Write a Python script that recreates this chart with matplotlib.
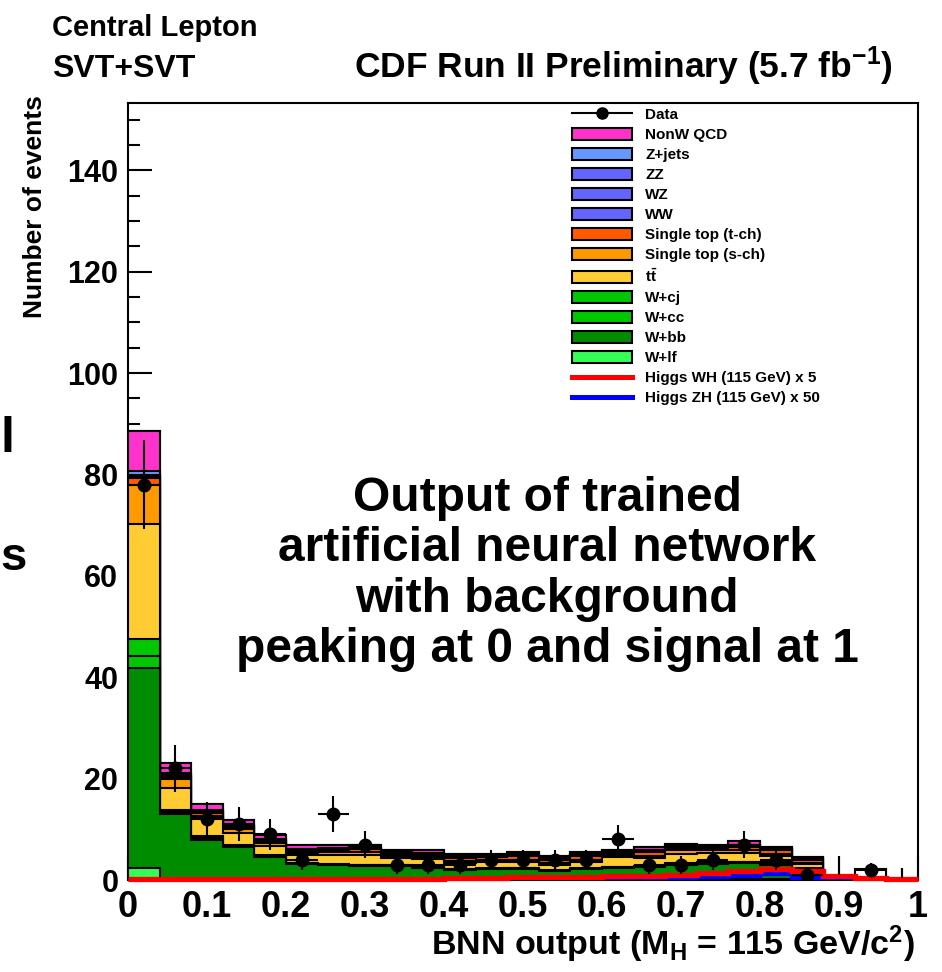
import numpy as np
import matplotlib
matplotlib.use('Agg')
import matplotlib.pyplot as plt
from matplotlib.patches import Patch
from matplotlib.lines import Line2D
from matplotlib.ticker import MultipleLocator

plt.rcParams['font.family'] = 'Liberation Sans'
plt.rcParams['font.weight'] = 'bold'
plt.rcParams['mathtext.fontset'] = 'custom'
plt.rcParams['mathtext.rm'] = 'Liberation Sans:bold'
plt.rcParams['mathtext.it'] = 'Liberation Sans:bold'
plt.rcParams['mathtext.bf'] = 'Liberation Sans:bold'

# 25 bins of BNN output, 0 to 1
bin_edges = np.linspace(0, 1, 26)

# Background templates (events per bin), stacked bottom -> top
w_lf  = [2.4, 0.2, 0.1, 0.1, 0.1, 0.1, 0.1, 0.1, 0.1, 0.1, 0.1, 0.1, 0.1, 0.1, 0.1, 0.1, 0.1, 0.1, 0.1, 0.1, 0.1, 0.1, 0, 0, 0]
w_bb  = [39.4, 12.8, 7.8, 6.4, 4.5, 3.1, 2.8, 2.7, 2.6, 2.3, 1.9, 2.0, 2.1, 1.6, 2.0, 2.3, 2.5, 2.8, 3.1, 3.2, 2.8, 1.6, 0, 0, 0]
w_cc  = [2.4, 0.4, 0.4, 0.2, 0.2, 0.1, 0.1, 0.1, 0.1, 0.1, 0.1, 0.1, 0.1, 0.1, 0.1, 0.1, 0.1, 0.2, 0.2, 0.2, 0.3, 0.3, 0, 0, 0]
w_cj  = [3.3, 0.5, 0.4, 0.2, 0.1, 0.1, 0.1, 0.1, 0.1, 0.1, 0.1, 0.1, 0.1, 0.1, 0.1, 0.1, 0.1, 0.2, 0.2, 0.1, 0.3, 0.3, 0, 0, 0]
ttbar = [22.7, 4.3, 3.5, 2.4, 1.9, 1.5, 1.8, 1.9, 1.4, 1.6, 1.2, 1.2, 1.2, 1.0, 1.3, 2.0, 1.6, 1.9, 1.7, 1.8, 1.3, 0.9, 0, 0, 0]
s_ch  = [7.7, 1.7, 0.5, 0.8, 0.5, 0.4, 0.6, 0.6, 0.4, 0.4, 0.4, 0.5, 0.4, 0.4, 0.4, 0.3, 0.4, 0.7, 0.6, 0.6, 0.3, 0.2, 0, 0, 0]
t_ch  = [1.4, 0.5, 0.5, 0.4, 0.4, 0.5, 0.5, 0.6, 0.5, 0.4, 0.6, 0.5, 0.7, 0.6, 0.7, 0.5, 0.8, 0.5, 0.5, 0.6, 0.8, 0.6, 0, 0, 0]
ww    = [0.2, 0.2, 0.2, 0.15, 0.1, 0.1, 0.1, 0.1, 0.1, 0.1, 0.1, 0.1, 0.15, 0.1, 0.15, 0.1, 0.15, 0.15, 0.15, 0.15, 0.2, 0.15, 0, 0, 0]
wz    = [0.2, 0.2, 0.15, 0.1, 0.1, 0.1, 0.1, 0.1, 0.1, 0.1, 0.1, 0.1, 0.1, 0.1, 0.1, 0.1, 0.1, 0.1, 0.1, 0.1, 0.1, 0.1, 0, 0, 0]
zz    = [0.2, 0.1, 0.05, 0.05, 0.05, 0.05, 0.05, 0.05, 0.05, 0.05, 0.05, 0.05, 0.05, 0.05, 0.05, 0.05, 0.05, 0.05, 0.05, 0.05, 0.1, 0.05, 0, 0, 0]
z_jets = [0.8, 0.3, 0.3, 0.2, 0.15, 0.15, 0.15, 0.15, 0.1, 0.1, 0.1, 0.1, 0.1, 0.1, 0.1, 0.05, 0.1, 0.1, 0.05, 0.1, 0.05, 0.05, 0, 0, 0]
qcd   = [7.9, 1.9, 1.1, 0.8, 0.8, 0.7, 0.5, 0.4, 0.3, 0.55, 0.45, 0.35, 0.5, 0.45, 0.5, 0.2, 0.6, 0.4, 0.15, 0.6, 0.25, 0.15, 0, 0, 0]
unfilled = [0] * 23 + [2.1, 0]

# Higgs signal templates (scaled)
higgs_wh = [0.2, 0.2, 0.2, 0.2, 0.2, 0.2, 0.2, 0.2, 0.2, 0.2, 0.4, 0.4, 0.5, 0.5, 0.5, 0.7, 0.7, 1.0, 1.4, 1.8, 2.2, 1.8, 0.8, 0.4, 0.1]
higgs_zh = [0, 0, 0, 0, 0, 0, 0, 0, 0, 0, 0.05, 0.05, 0.05, 0.05, 0.05, 0.1, 0.1, 0.26, 0.6, 0.7, 1.2, 0.45, 0, 0, 0]

# Observed data
data = [78, 22, 12, 11, 9, 4, 13, 7, 3, 3, 3, 4, 4, 4, 4, 8, 3, 3, 4, 7, 4, 1, 0, 2, 0]
empty_bins = [0.90, 0.98]
empty_lo = [1.0, 0.4]
empty_hi = [4.6, 2.4]

stack = [
    ('W+lf', w_lf, '#33ff55'),
    ('W+bb', w_bb, '#008c00'),
    ('W+cc', w_cc, '#00c800'),
    ('W+cj', w_cj, '#00c800'),
    (r'$t\bar{t}$', ttbar, '#ffcc33'),
    ('Single top (s-ch)', s_ch, '#ff9900'),
    ('Single top (t-ch)', t_ch, '#ff5a00'),
    ('WW', ww, '#6464ff'),
    ('WZ', wz, '#6464ff'),
    ('ZZ', zz, '#6464ff'),
    ('Z+jets', z_jets, '#6699ff'),
    ('NonW QCD', qcd, '#ff33cc'),
]

fig = plt.figure(figsize=(9.42, 9.72), dpi=100)
ax = fig.add_axes([128 / 942, 92 / 972, 790 / 942, 777 / 972])

# cumulative stack, drawn from the top layer down like THStack
cum = np.zeros(25)
layers = []
for name, vals, col in stack:
    cum = cum + np.array(vals)
    layers.append((cum.copy(), col))
layers.append((cum + np.array(unfilled), 'white'))
for top, col in reversed(layers):
    ax.stairs(top, bin_edges, baseline=0, fill=True, facecolor=col,
              edgecolor='black', linewidth=1.5, zorder=3)

ax.stairs(higgs_zh, bin_edges, baseline=None, color='#0000ff', linewidth=3.2, zorder=4)
ax.stairs(higgs_wh, bin_edges, baseline=None, color='#ff0000', linewidth=3.8, zorder=4,
          clip_on=False)

centers = 0.5 * (bin_edges[:-1] + bin_edges[1:])
data = np.array(data, dtype=float)
has = data > 0
ax.errorbar(centers[has], data[has], yerr=np.sqrt(data[has]), xerr=0.02,
            fmt='o', color='black', ms=9, elinewidth=1.5, capsize=0, zorder=5)
ax.vlines(empty_bins, empty_lo, empty_hi, color='black', linewidth=1.5, zorder=5)

ax.set_xlim(0, 1)
ax.set_ylim(0, 153.3)
ax.xaxis.set_minor_locator(MultipleLocator(0.02))
ax.yaxis.set_major_locator(MultipleLocator(20))
ax.yaxis.set_minor_locator(MultipleLocator(5))
ax.set_xticks(np.arange(0, 1.01, 0.1))
ax.set_xticklabels(['0', '0.1', '0.2', '0.3', '0.4', '0.5', '0.6', '0.7', '0.8', '0.9', '1'])
ax.tick_params(which='major', direction='in', length=17, width=1.5)
ax.tick_params(which='minor', direction='in', length=8.5, width=1.5)
ax.tick_params(axis='x', labelsize=26, pad=7)
ax.tick_params(axis='y', labelsize=22, pad=7)
for s in ax.spines.values():
    s.set_linewidth(1.5)

handles = [Line2D([], [], color='black', marker='o', ms=8, lw=1.5)]
labels = ['Data']
for name, vals, col in reversed(stack):
    handles.append(Patch(facecolor=col, edgecolor='black', linewidth=1.5))
    labels.append(name)
handles += [Line2D([], [], color='#ff0000', lw=3.6), Line2D([], [], color='#0000ff', lw=3.6)]
labels += ['Higgs WH (115 GeV) x 5', 'Higgs ZH (115 GeV) x 50']
ax.legend(handles, labels, loc='upper left', bbox_to_anchor=(0.562, 0.994),
          frameon=False, fontsize=11, handlelength=3.9, handleheight=0.85,
          labelspacing=0.37, handletextpad=0.9, borderpad=0, borderaxespad=0)

fig.text(52 / 942, 1 - 36 / 972, 'Central Lepton', fontsize=21, ha='left', va='baseline')
fig.text(52 / 942, 1 - 77 / 972, 'SVT+SVT', fontsize=23, ha='left', va='baseline')
fig.text(893 / 942, 1 - 78 / 972, r'CDF Run II Preliminary (5.7 fb$^{-1}$)', fontsize=25.5,
         ha='right', va='baseline')
fig.text(35 / 942, 1 - 95 / 972, 'Number of events', fontsize=19, rotation=90,
         ha='center', va='top')
fig.text(915 / 942, 1 - 955 / 972, r'BNN output (M$_{H}$ = 115 GeV/c$^{2}$)', fontsize=24.5,
         ha='right', va='baseline')

fig.text(547 / 942, 1 - 574 / 972,
         'Output of trained\nartificial neural network\nwith background\npeaking at 0 and signal at 1',
         fontsize=34.5, ha='center', va='center', linespacing=1.15)

fig.text(0, 1 - 452 / 972, 'l', fontsize=36, ha='left', va='baseline')
fig.text(0, 1 - 570 / 972, 's', fontsize=34, ha='left', va='baseline')

fig.savefig('out.png', dpi=100)
